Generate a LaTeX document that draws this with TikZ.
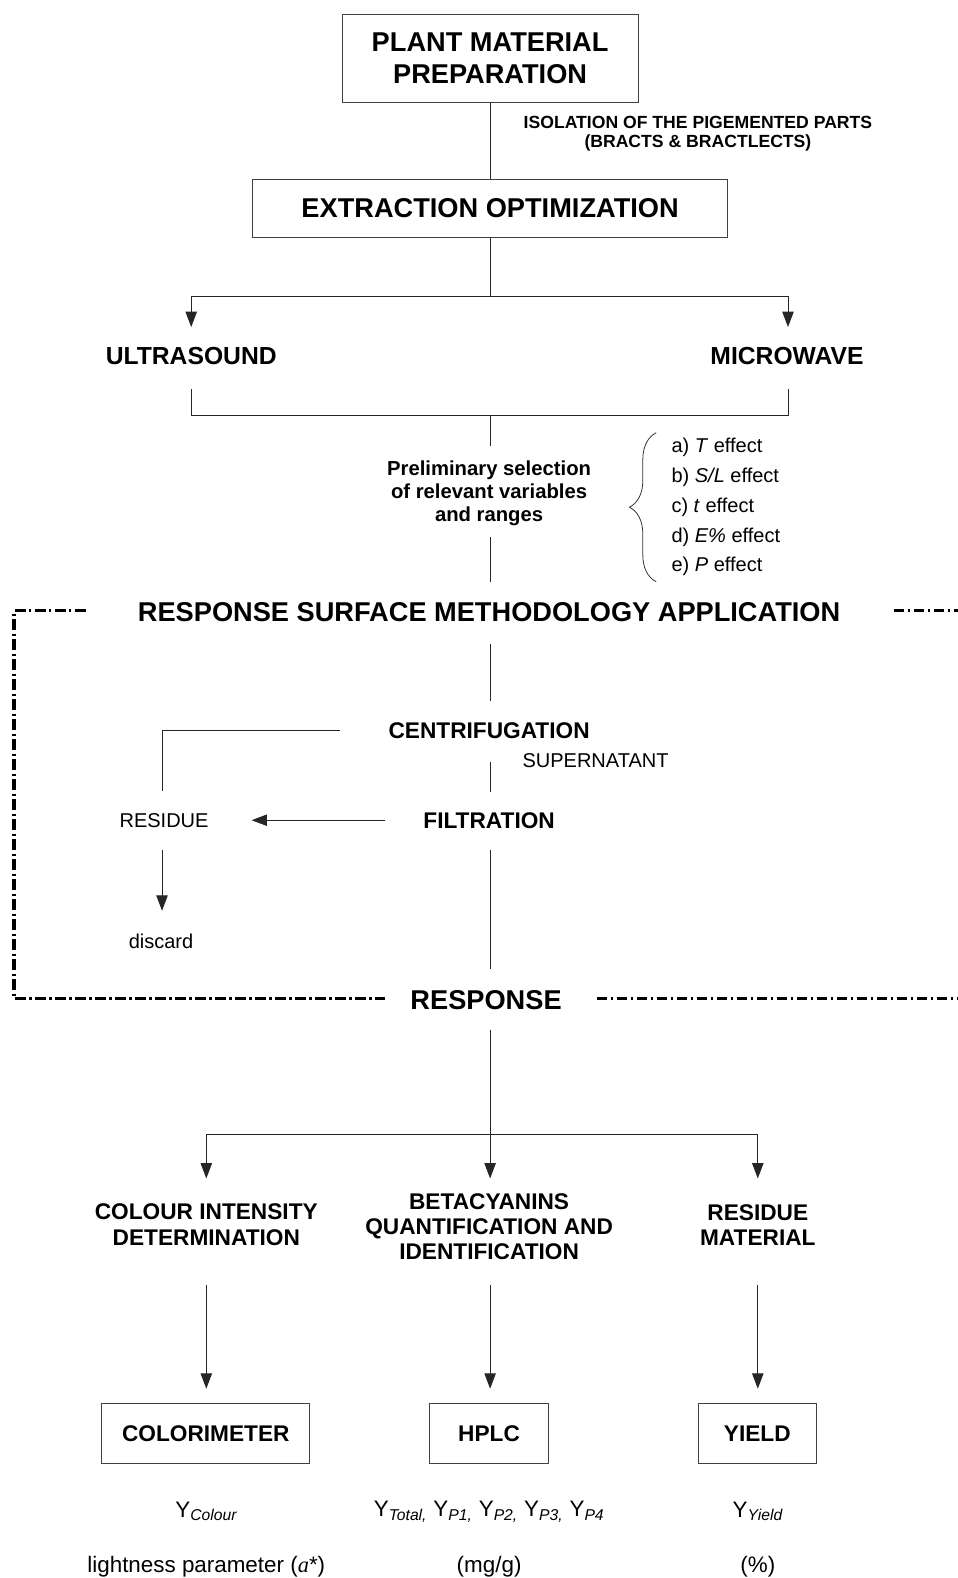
\documentclass[tikz,border=0pt]{standalone}
\usepackage{fontspec}
\setmainfont{Liberation Sans}
\newfontfamily\tnr{Liberation Serif}
\usetikzlibrary{arrows.meta,decorations.pathreplacing}
\tikzset{
  ln/.style={line width=0.75pt, draw=black!85},
  arr/.style={ln, -{Triangle[length=11.5pt,width=8.5pt]}},
  boxnode/.style={draw=black!75, line width=0.8pt, inner sep=0pt, align=center},
  bigb/.style={font=\fontsize{20.4}{23.4}\selectfont\bfseries, align=center, inner sep=0pt},
  midb/.style={font=\fontsize{18.5}{20}\selectfont\bfseries, align=center, inner sep=0pt},
  medb/.style={font=\fontsize{17}{18.9}\selectfont\bfseries, align=center, inner sep=0pt},
  regl/.style={font=\fontsize{15}{17}\selectfont, inner sep=0pt},
  botl/.style={font=\fontsize{16.8}{18}\selectfont, inner sep=0pt},
  framel/.style={line width=2.4pt, dash pattern=on 8pt off 2.6pt on 1.8pt off 2.6pt},
}
\begin{document}
\begin{tikzpicture}[x=0.7547pt, y=-0.7547pt]
\useasboundingbox (0,0) rectangle (951,1568);
\fill[white] (0,0) rectangle (951,1568);

% top
\node[boxnode, bigb, minimum width=221.9pt, minimum height=66.4pt] (plant) at (487,58) {PLANT MATERIAL\\PREPARATION};
\node[font=\fontsize{13.2}{14.3}\selectfont\bfseries, align=center, inner sep=0pt] (iso) at (693.5,133) {ISOLATION OF THE PIGEMENTED PARTS\\(BRACTS \& BRACTLECTS)};
\node[boxnode, bigb, minimum width=356.2pt, minimum height=43.8pt] (extr) at (487,207) {EXTRACTION OPTIMIZATION};
\draw[ln] (plant.south) -- (extr.north);

\coordinate (j1) at (487,295);
\coordinate (usin) at (190,325);
\coordinate (mwin) at (783,325);
\draw[ln] (extr.south) -- (j1);
\draw[arr] (j1) -| (usin);
\draw[arr] (j1) -| (mwin);
\node[midb] (us) at (190,354) {ULTRASOUND};
\node[midb] (mw) at (782,354) {MICROWAVE};

\coordinate (usout) at (190,387);
\coordinate (mwout) at (783,387);
\coordinate (j2) at (487,413);
\draw[ln] (usout) -- ++(0,26) -| (mwout);
\coordinate (prin) at (487,443);
\draw[ln] (j2) -- (prin);

\node[font=\fontsize{15.2}{17.4}\selectfont\bfseries, align=center, inner sep=0pt] (prelim) at (486,490) {Preliminary selection\\of relevant variables\\and ranges};
\coordinate (prout) at (487,534);
\coordinate (rsmin) at (487,578);
\draw[ln] (prout) -- (rsmin);

\draw[line width=0.6pt, draw=black!80, decorate, decoration={brace, amplitude=20pt}] (652,578) -- (652,430);
\node[regl, anchor=west] (ea) at (667,444) {a) \textit{T} effect};
\node[regl, anchor=west] (eb) at (667,474) {b) \textit{S/L} effect};
\node[regl, anchor=west] (ec) at (667,504) {c) \textit{t} effect};
\node[regl, anchor=west] (ed) at (667,534) {d) \textit{E\%} effect};
\node[regl, anchor=west] (ee) at (667,563) {e) \textit{P} effect};

% RSM frame
\node[bigb] (rsm) at (486,608) {RESPONSE SURFACE METHODOLOGY APPLICATION};
\coordinate (ftl) at (85,607);
\coordinate (fbl) at (383,992);
\coordinate (fbr) at (593,992);
\coordinate (ftr) at (888,607);
\draw[framel] (ftl) -- (14,607) -- (14,992) -- (fbl);
\draw[framel] (fbr) -- (955,992);
\draw[framel] (ftr) -- (955,607);

\coordinate (rsmout) at (487,640);
\coordinate (cenin) at (487,697);
\draw[ln] (rsmout) -- (cenin);
\node[medb] (cen) at (486,726) {CENTRIFUGATION};
\coordinate (cenl) at (338,726);
\coordinate (resin) at (161,786);
\draw[ln] (cenl) -| (resin);
\node[regl, anchor=west] (sup) at (519,756) {SUPERNATANT};
\coordinate (cenout) at (487,757);
\coordinate (filin) at (487,787);
\draw[ln] (cenout) -- (filin);
\node[medb] (fil) at (486,815) {FILTRATION};
\node[regl] (res) at (163,815) {RESIDUE};
\coordinate (fill) at (383,815);
\coordinate (resr) at (250,815);
\draw[arr] (fill) -- (resr);
\coordinate (resout) at (161,845);
\coordinate (disin) at (161,905);
\draw[arr] (resout) -- (disin);
\node[regl] (dis) at (160,935) {discard};
\coordinate (filout) at (487,845);
\coordinate (respin) at (487,963);
\draw[ln] (filout) -- (respin);
\node[bigb] (resp) at (483,994) {RESPONSE};

% responses
\coordinate (respout) at (487,1023);
\coordinate (j3) at (487,1127);
\coordinate (c1in) at (205,1171);
\coordinate (c2in) at (487,1171);
\coordinate (c3in) at (753,1171);
\draw[arr] (respout) -- (c2in);
\draw[ln] (c1in |- j3) -- (c3in |- j3);
\draw[arr] (j3) -| (c1in);
\draw[arr] (j3) -| (c3in);

\node[medb] (ci) at (205,1217) {COLOUR INTENSITY\\DETERMINATION};
\node[medb] (bq) at (486,1219) {BETACYANINS\\QUANTIFICATION AND\\IDENTIFICATION};
\node[medb] (rm) at (753,1217) {RESIDUE\\MATERIAL};

\coordinate (c1out) at (205,1277);
\coordinate (c2out) at (487,1277);
\coordinate (c3out) at (753,1277);
\node[boxnode, medb, minimum width=156.2pt, minimum height=44.5pt] (colo) at (204.5,1424.5) {COLORIMETER};
\node[boxnode, medb, minimum width=89.1pt, minimum height=44.5pt] (hplc) at (486,1424.5) {HPLC};
\node[boxnode, medb, minimum width=88.3pt, minimum height=44.5pt] (yld) at (752.5,1424.5) {YIELD};
\draw[arr] (c1out) -- ([yshift=11pt]colo.north -| c1out);
\draw[arr] (c2out) -- ([yshift=11pt]hplc.north -| c2out);
\draw[arr] (c3out) -- ([yshift=11pt]yld.north -| c3out);

\node[botl] (yc) at (205,1502) {Y\textsubscript{\itshape Colour}};
\node[botl] (yt) at (486,1502) {Y\textsubscript{\itshape Total,} Y\textsubscript{\itshape P1,} Y\textsubscript{\itshape P2,} Y\textsubscript{\itshape P3,} Y\textsubscript{\itshape P4}};
\node[botl] (yy) at (753,1502) {Y\textsubscript{\itshape Yield}};

\node[botl] (lc) at (205,1557) {lightness parameter ({\tnr\itshape a}*)};
\node[botl] (lt) at (486,1557) {(mg/g)};
\node[botl] (ly) at (753,1557) {(\%)};
\end{tikzpicture}
\end{document}
